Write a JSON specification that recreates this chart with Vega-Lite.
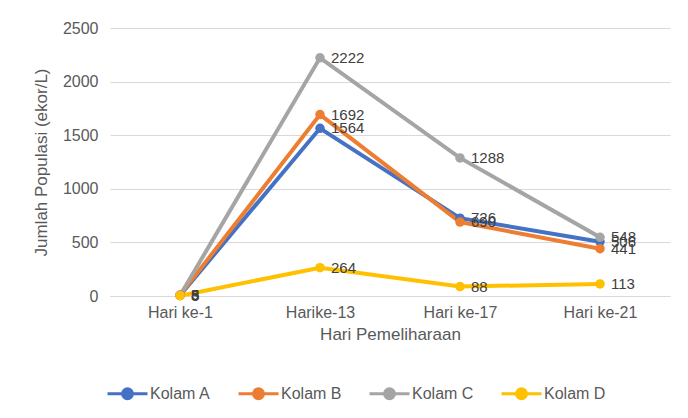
{
  "$schema": "https://vega.github.io/schema/vega-lite/v6.json",
  "autosize": {"type": "none"},
  "width": 560,
  "height": 268,
  "padding": {"left": 110, "top": 28, "right": 18, "bottom": 122},
  "background": "white",
  "config": {
    "font": "Liberation Sans",
    "view": {"stroke": null},
    "axis": {"labelColor": "#595959", "titleColor": "#595959", "labelFontSize": 16, "titleFontSize": 17, "titleFontWeight": "normal"}
  },
  "data": {"values": [
    {"hari": "Hari ke-1", "kolam": "Kolam A", "v": 6},
    {"hari": "Harike-13", "kolam": "Kolam A", "v": 1564},
    {"hari": "Hari ke-17", "kolam": "Kolam A", "v": 726},
    {"hari": "Hari ke-21", "kolam": "Kolam A", "v": 506},
    {"hari": "Hari ke-1", "kolam": "Kolam B", "v": 8},
    {"hari": "Harike-13", "kolam": "Kolam B", "v": 1692},
    {"hari": "Hari ke-17", "kolam": "Kolam B", "v": 690},
    {"hari": "Hari ke-21", "kolam": "Kolam B", "v": 441},
    {"hari": "Hari ke-1", "kolam": "Kolam C", "v": 5},
    {"hari": "Harike-13", "kolam": "Kolam C", "v": 2222},
    {"hari": "Hari ke-17", "kolam": "Kolam C", "v": 1288},
    {"hari": "Hari ke-21", "kolam": "Kolam C", "v": 548},
    {"hari": "Hari ke-1", "kolam": "Kolam D", "v": 3},
    {"hari": "Harike-13", "kolam": "Kolam D", "v": 264},
    {"hari": "Hari ke-17", "kolam": "Kolam D", "v": 88},
    {"hari": "Hari ke-21", "kolam": "Kolam D", "v": 113}
  ]},
  "encoding": {
    "x": {"field": "hari", "type": "ordinal", "sort": null, "scale": {"type": "point", "padding": 0.5},
      "axis": {"title": "Hari Pemeliharaan", "labelAngle": 0, "domainColor": "#d9d9d9", "ticks": false, "grid": false, "labelPadding": 8, "titlePadding": 6}},
    "y": {"field": "v", "type": "quantitative", "scale": {"domain": [0, 2500]},
      "axis": {"title": "Jumlah Populasi (ekor/L)", "values": [0, 500, 1000, 1500, 2000, 2500], "format": "d", "domain": false, "ticks": false, "gridColor": "#d9d9d9", "labelPadding": 12, "titlePadding": 12}},
    "color": {"field": "kolam", "type": "nominal",
      "scale": {"domain": ["Kolam A", "Kolam B", "Kolam C", "Kolam D"], "range": ["#4472c4", "#ed7d31", "#a5a5a5", "#ffc000"]},
      "legend": {"title": null, "orient": "none", "direction": "horizontal", "legendX": -4, "legendY": 344,
        "symbolType": "M -1 0 L 1 0 M -0.25 0 A 0.25 0.25 0 1 1 0.25 0 A 0.25 0.25 0 1 1 -0.25 0",
        "symbolSize": 1600, "symbolStrokeWidth": 3, "labelFontSize": 16, "labelColor": "#595959", "columnPadding": 21, "labelOffset": 1}}
  },
  "layer": [
    {"mark": {"type": "line", "strokeWidth": 4, "point": {"size": 90, "filled": true}}},
    {"mark": {"type": "text", "align": "left", "baseline": "middle", "dx": 11, "fontSize": 15, "color": "#404040"},
      "encoding": {"text": {"field": "v", "type": "quantitative"}, "color": {"value": "#404040"}}}
  ]
}
